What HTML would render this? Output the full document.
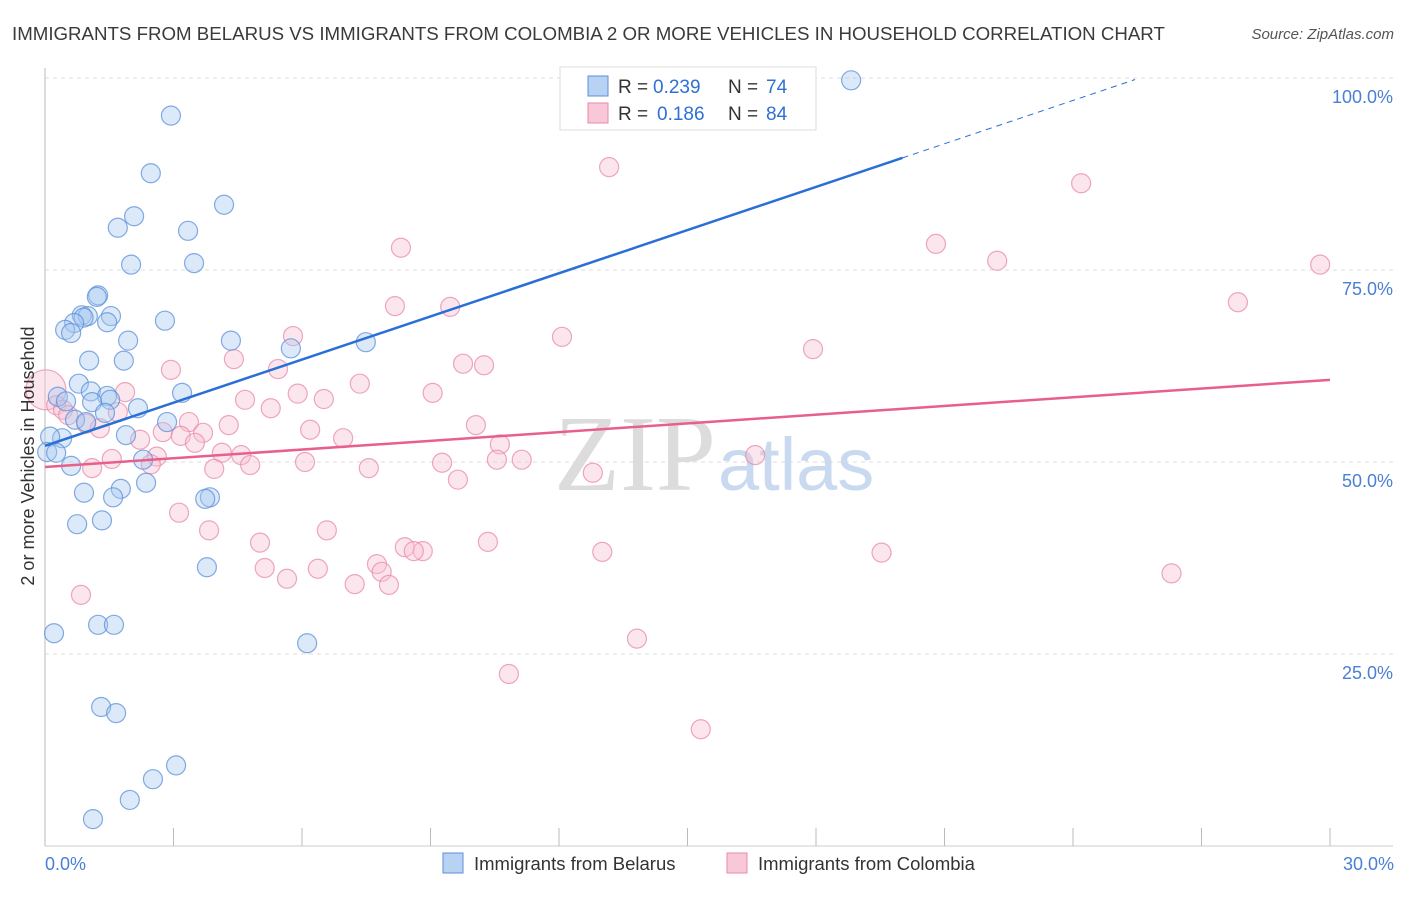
<!DOCTYPE html>
<html><head><meta charset="utf-8"><style>
body{margin:0;background:#fff;font-family:"Liberation Sans",sans-serif}
svg text{font-family:"Liberation Sans",sans-serif}
</style></head><body>
<svg id="chart" width="1406" height="892">
<text x="12" y="40" font-size="18.7" fill="#3a3a3a">IMMIGRANTS FROM BELARUS VS IMMIGRANTS FROM COLOMBIA 2 OR MORE VEHICLES IN HOUSEHOLD CORRELATION CHART</text>
<text x="1394" y="39" font-size="15" fill="#555" font-style="italic" text-anchor="end">Source: ZipAtlas.com</text>
<g id="grid"></g>
<text x="716" y="490" font-size="108" fill="#dcdcdc" text-anchor="end" style="font-family:'Liberation Serif',serif">ZIP</text>
<text x="718" y="490" font-size="74" fill="#c9d9ef">atlas</text>
<g id="marks"></g>
<text x="34" y="456" font-size="18" fill="#333" text-anchor="middle" transform="rotate(-90 34 456)">2 or more Vehicles in Household</text>
<text x="45" y="870" font-size="18" fill="#4a7fd4">0.0%</text>
<text x="1394" y="870" font-size="18" fill="#4a7fd4" text-anchor="end">30.0%</text>
<g>
<rect x="560" y="67" width="256" height="63" fill="#fff" stroke="#ddd"/>
<rect x="588" y="76" width="20" height="20" fill="#b8d2f3" stroke="#5b8fd9"/>
<rect x="588" y="103" width="20" height="20" fill="#f9c8d8" stroke="#e88aa8"/>
<text x="618" y="93" font-size="19" fill="#333">R =</text><text x="653" y="93" font-size="19" fill="#2f6fd6">0.239</text>
<text x="728" y="93" font-size="19" fill="#333">N =</text><text x="766" y="93" font-size="19" fill="#2f6fd6">74</text>
<text x="618" y="120" font-size="19" fill="#333">R =</text><text x="657" y="120" font-size="19" fill="#2f6fd6">0.186</text>
<text x="728" y="120" font-size="19" fill="#333">N =</text><text x="766" y="120" font-size="19" fill="#2f6fd6">84</text>
</g>
<g>
<rect x="443" y="853" width="20" height="20" fill="#b8d2f3" stroke="#5b8fd9"/>
<text x="474" y="870" font-size="18.5" fill="#333">Immigrants from Belarus</text>
<rect x="727" y="853" width="20" height="20" fill="#f9c8d8" stroke="#e88aa8"/>
<text x="758" y="870" font-size="18.5" fill="#333">Immigrants from Colombia</text>
</g>
</svg>
<script>
const yTicks=[25,50,75,100];
const yTickLabels=["25.0%","50.0%","75.0%","100.0%"];
const belarusX=[18.82,2.94,2.47,4.18,2.08,1.70,3.34,2.01,3.48,1.24,1.21,0.86,1.00,0.90,1.54,0.68,1.45,2.80,0.47,0.61,4.34,1.94,7.49,5.74,1.03,1.84,0.79,1.07,3.20,0.30,0.49,1.45,1.52,1.10,2.17,1.40,2.85,0.70,0.96,1.89,0.40,0.12,0.05,0.26,2.29,0.61,2.36,1.77,0.91,1.59,3.85,3.74,0.75,1.33,3.78,0.21,1.24,1.61,6.12,1.31,1.66,3.06,2.52,1.98,1.12];
const belarusY=[99.7,95.1,87.6,83.5,82.0,80.5,80.1,75.7,75.9,71.7,71.5,69.1,69.0,68.8,69.0,68.1,68.2,68.4,67.2,66.8,65.8,65.8,65.6,64.8,63.2,63.2,60.2,59.2,59.0,58.5,57.9,58.6,58.1,57.8,57.0,56.4,55.2,55.5,55.2,53.5,53.1,53.3,51.3,51.2,50.3,49.5,47.3,46.5,46.0,45.4,45.4,45.2,41.9,42.4,36.3,27.7,28.8,28.8,26.4,18.1,17.3,10.5,8.7,6.0,3.5];
const colombiaX=[13.17,24.19,8.31,20.80,22.23,29.77,27.85,8.17,9.46,5.79,12.07,17.93,4.41,9.76,10.25,2.94,5.44,7.35,1.87,9.05,5.90,6.51,4.67,5.27,0.26,0.42,1.70,0.54,0.96,3.36,10.06,4.29,1.28,6.19,2.75,3.69,3.17,6.96,2.22,3.50,10.62,4.13,4.58,2.61,1.56,16.58,6.07,9.27,10.55,11.13,2.47,4.79,3.95,1.10,7.56,12.79,9.64,3.13,3.83,6.58,5.02,10.34,8.40,8.82,8.61,13.01,19.53,7.75,5.13,6.37,7.86,26.30,5.65,7.23,8.03,0.84,13.82,10.83,15.31];
const colombiaY=[88.4,86.3,77.9,78.4,76.2,75.7,70.8,70.3,70.2,66.4,66.3,64.7,63.4,62.8,62.6,62.0,62.1,60.2,59.1,59.0,58.9,58.2,58.1,57.0,57.4,56.8,56.5,56.1,55.0,55.2,54.8,54.8,54.4,54.2,53.9,53.8,53.4,53.1,52.9,52.5,52.3,51.2,50.9,50.7,50.4,50.9,50.0,49.9,50.3,50.3,49.7,49.6,49.1,49.2,49.2,48.6,47.7,43.4,41.1,41.1,39.5,39.6,38.9,38.4,38.4,38.3,38.2,36.7,36.2,36.1,35.7,35.5,34.8,34.1,34.0,32.7,27.0,22.4,15.2];
const colombiaBigX=[0.02];const colombiaBigY=[59.4];
const belarusTrendX=[0,20.02,25.45];const belarusTrendY=[52.1,89.6,99.8];
const colombiaTrendX=[0,30];const colombiaTrendY=[49.35,60.7];
const NS="http://www.w3.org/2000/svg";
const sx=v=>45+v/30*1285, sy=v=>846-v/100*768;
function mk(t,a,p){const e=document.createElementNS(NS,t);for(const k in a)e.setAttribute(k,a[k]);p.appendChild(e);return e;}
const grid=document.getElementById('grid'), marks=document.getElementById('marks');
yTicks.forEach((t,i)=>{
 const l=mk('line',{x1:45,x2:1393,y1:sy(t),y2:sy(t),stroke:'#ddd','stroke-dasharray':'4,4'},grid);
 
 
 const tx=mk('text',{x:1393,y:sy(t)+25,'font-size':18,fill:'#4a7fd4','text-anchor':'end'},grid);
 tx.textContent=yTickLabels[i];
 
 
});
const ax=mk('line',{x1:45,x2:45,y1:68,y2:846,stroke:'#bbb'},grid);


const bx=mk('line',{x1:45,x2:1393,y1:846,y2:846,stroke:'#ccc'},grid);


for(let i=0;i<=10;i++){const t=mk('line',{x1:sx(i*3),x2:sx(i*3),y1:828,y2:846,stroke:'#bbb'},grid);
 
 }
function dots(X,Y,fill,stroke,r,name){X.forEach((x,i)=>{const c=mk('circle',{cx:sx(x),cy:sy(Y[i]),r:r,fill:fill,'fill-opacity':0.4,stroke:stroke,'stroke-width':1.2,'stroke-opacity':0.75},marks);
 
 });}
dots(colombiaBigX,colombiaBigY,'#f8c0d2','#e88aa8',20,'colombia-point');
dots(colombiaX,colombiaY,'#f8c0d2','#e88aa8',9.5,'colombia-point');
dots(belarusX,belarusY,'#a8c8f0','#5b8fd9',9.5,'belarus-point');
const bt=mk('line',{x1:sx(belarusTrendX[0]),y1:sy(belarusTrendY[0]),x2:sx(belarusTrendX[1]),y2:sy(belarusTrendY[1]),stroke:'#2a6fd6','stroke-width':2.5},marks);


const bd=mk('line',{x1:sx(belarusTrendX[1]),y1:sy(belarusTrendY[1]),x2:sx(belarusTrendX[2]),y2:sy(belarusTrendY[2]),stroke:'#2a6fd6','stroke-width':1,'stroke-dasharray':'6,5'},marks);


const ct=mk('line',{x1:sx(colombiaTrendX[0]),y1:sy(colombiaTrendY[0]),x2:sx(colombiaTrendX[1]),y2:sy(colombiaTrendY[1]),stroke:'#e8608a','stroke-width':2.5},marks);


</script>
</body></html>
